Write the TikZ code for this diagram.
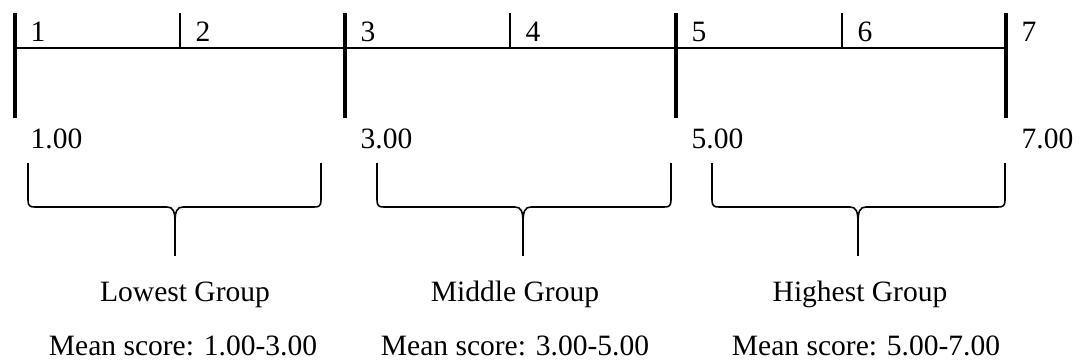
\documentclass[tikz,border=0pt]{standalone}
\usepackage{fontspec}
\setmainfont{Liberation Serif}
\begin{document}
\begin{tikzpicture}[scale=1,
  font=\fontsize{8.4pt}{10pt}\selectfont,
  lbl/.style={inner sep=0pt},
  brace/.style={line width=0.45pt, line join=round}]

\useasboundingbox (0,0) rectangle (10.83,3.63);

% Echelle
\draw[line width=0.6pt] (0.15,3.15) -- (10.06,3.15);

\foreach \x in {0.15,3.45,6.76,10.06}
{
\draw[line width=1.2pt] (\x,3.50) -- (\x,2.45);
}

\foreach \x in {1.80,5.10,8.42}
{
\draw[line width=0.5pt] (\x,3.50) -- (\x,3.15);
}

% Points
\foreach \x/\t [count=\i] in {0.15/1,1.80/2,3.45/3,5.10/4,6.76/5,8.42/6,10.06/7}
{
\node[lbl, anchor=base west] (n\i) at (\x+0.15,3.22) {\t};
}

% Valeurs
\foreach \x/\t [count=\i] in {0.15/1.00,3.45/3.00,6.76/5.00,10.06/7.00}
{
\node[lbl, anchor=base west] (v\i) at (\x+0.15,2.15) {\t};
}

% Accolades
\foreach \l/\m/\r in {0.28/1.75/3.21, 3.77/5.23/6.71, 7.12/8.58/10.05}
{
\draw[brace] (\l,2.00) -- (\l,1.63)
  .. controls (\l,1.57) and (\l+0.02,1.56) .. (\l+0.07,1.56)
  -- (\m-0.08,1.56)
  .. controls (\m-0.02,1.56) and (\m,1.52) .. (\m,1.40)
  .. controls (\m,1.52) and (\m+0.02,1.56) .. (\m+0.08,1.56)
  -- (\r-0.07,1.56)
  .. controls (\r-0.02,1.56) and (\r,1.57) .. (\r,1.63)
  -- (\r,2.00);
\draw[brace] (\m,1.40) -- (\m,1.07);
}

% Groupes
\node[lbl, anchor=base] (g1) at (1.85,0.62) {Lowest Group};
\node[lbl, anchor=base] (g2) at (5.15,0.62) {Middle Group};
\node[lbl, anchor=base] (g3) at (8.60,0.62) {Highest Group};

\node[lbl, anchor=base] (m1) at (1.83,0.08) {Mean score: 1.00-3.00};
\node[lbl, anchor=base] (m2) at (5.15,0.08) {Mean score: 3.00-5.00};
\node[lbl, anchor=base] (m3) at (8.66,0.08) {Mean score: 5.00-7.00};

\end{tikzpicture}
\end{document}
